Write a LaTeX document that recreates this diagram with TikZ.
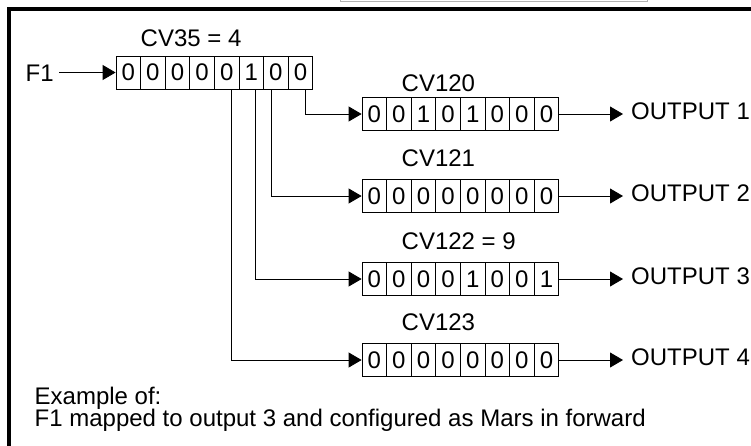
\documentclass[tikz,border=0pt]{standalone}
\usepackage{fontspec}
\setmainfont{Liberation Sans}
\usetikzlibrary{arrows.meta}
\def\cvreg(#1)(#2,#3)#4{\foreach \bitval [count=\k] in {#4} \node[bit] (#1-\k) at ({#2+12.3+24.6*(\k-1)}, #3) {\bitval};}
\tikzset{
	bit/.style={draw, line width=0.8pt, minimum width=24.6pt, minimum height=33pt, inner sep=0pt, font=\fontsize{24}{26}\selectfont},
	lbl/.style={inner sep=0pt, anchor=base west, font=\fontsize{24}{26}\selectfont},
	link/.style={line width=0.8pt, -{Triangle[length=13pt,width=15pt]}}
}

\begin{document}
\begin{tikzpicture}[x=1pt, y=-1pt]
			%%%%% START %%%%%
			\useasboundingbox (0, 0) rectangle (751, 445);
			
			\draw[line width=0.8pt, color=black!30] (340, -2) -- (340, 1) -- (647, 1) -- (647, -2);
			\draw[line width=4pt, line join=miter] (8.5, 450) -- (8.5, 8.5) -- (760, 8.5);
			
			% source register
			\node[lbl] (cv35) at (140.5, 46.7) {CV35 = 4};
			\cvreg(c35)(116, 72.5){0,0,0,0,0,1,0,0}
			\node[lbl, inner xsep=5.5pt] (f1) at (20, 81.7) {F1};
			\draw[link] (f1.east |- c35-1.west) -- (c35-1.west);
			
			% output registers
			\node[lbl] (cv120) at (401.5, 91) {CV120};
			\cvreg(o1)(362, 114){0,0,1,0,1,0,0,0}
			\node[lbl] (cv121) at (401.5, 166.7) {CV121};
			\cvreg(o2)(362, 196){0,0,0,0,0,0,0,0}
			\node[lbl] (cv122) at (401.5, 249.3) {CV122 = 9};
			\cvreg(o3)(362, 279){0,0,0,0,1,0,0,1}
			\node[lbl] (cv123) at (401.5, 330) {CV123};
			\cvreg(o4)(362, 360){0,0,0,0,0,0,0,0}
			
			\draw[link] ([xshift=4.5pt]c35-8.south) |- (o1-1.west);
			\draw[link] ([xshift=-4.2pt]c35-7.south) |- (o2-1.west);
			\draw[link] ([xshift=3.7pt]c35-6.south) |- (o3-1.west);
			\draw[link] ([xshift=5pt]c35-5.south) |- (o4-1.west);
			
			\foreach \row/\ypos in {1/114, 2/196, 3/279, 4/360} {
				\node[lbl, inner xsep=8pt] (out\row) at (623, \ypos+5) {OUTPUT \row};
				\draw[link] (o\row-8.east) -- (o\row-8.east -| out\row.west);
			}
			
			\node[lbl] (ex1) at (34.5, 404.3) {Example of:};
			\node[lbl] (ex2) at (34.5, 426.7) {F1 mapped to output 3 and configured as Mars in forward};
			%%%%% END %%%%%
\end{tikzpicture}
\end{document}
